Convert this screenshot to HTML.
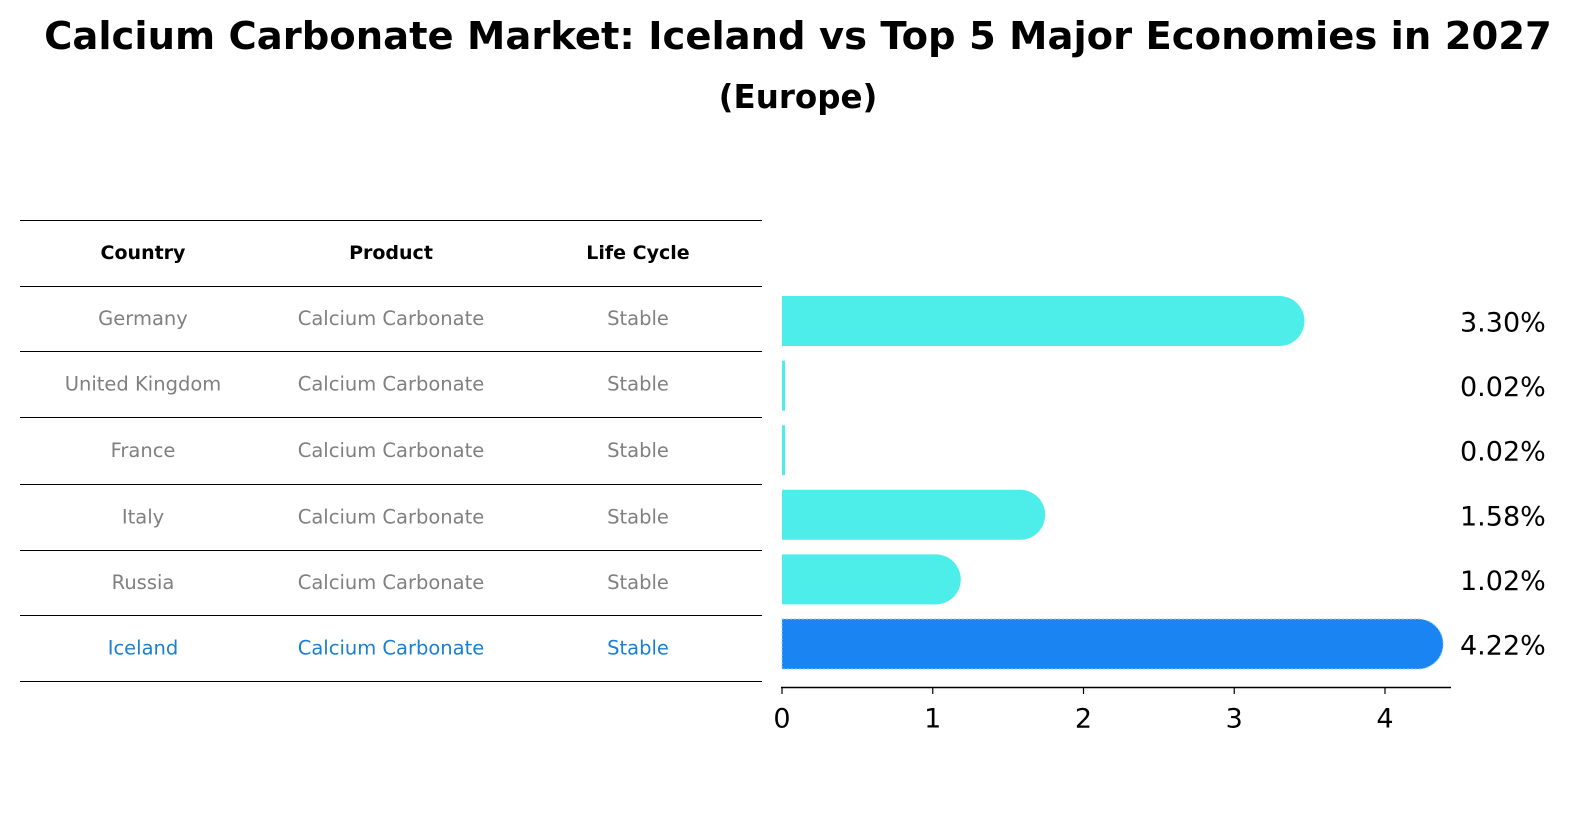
<!DOCTYPE html>
<html><head><meta charset="utf-8"><style>
body{margin:0;background:#fff;font-family:"DejaVu Sans","Liberation Sans",sans-serif;}
#root{position:relative;width:1588px;height:823px;overflow:hidden;}
.t{position:absolute;white-space:nowrap;line-height:1;}
</style></head><body>
<div id="root">
<div class="t" style="left:0;width:1596px;text-align:center;top:18px;font-size:38.5px;font-weight:bold;">Calcium Carbonate Market: Iceland vs Top 5 Major Economies in 2027</div>
<div class="t" style="left:0;width:1596px;text-align:center;top:81px;font-size:32.5px;font-weight:bold;">(Europe)</div>
<svg id="svg" width="1588" height="823" style="position:absolute;left:0;top:0"></svg>
</div>
<script>
const countries=["Germany","United Kingdom","France","Italy","Russia","Iceland"];
const products=["Calcium Carbonate","Calcium Carbonate","Calcium Carbonate","Calcium Carbonate","Calcium Carbonate","Calcium Carbonate"];
const lifeCycles=["Stable","Stable","Stable","Stable","Stable","Stable"];
const values=[3.30,0.02,0.02,1.58,1.02,4.22];
const ticks=[0,1,2,3,4];
const NS="http://www.w3.org/2000/svg";
const svg=document.getElementById('svg');
const x=v=>782+v*150.75;
const rowY=i=>321+i*64.6;
function el(tag,attrs){const e=document.createElementNS(NS,tag);for(const k in attrs)e.setAttribute(k,attrs[k]);svg.appendChild(e);return e;}
function txt(s,xx,yy,size,fill,anchor,weight){const e=el('text',{x:xx,y:yy,'font-size':size,fill:fill,'text-anchor':anchor,'font-family':'DejaVu Sans, Liberation Sans, sans-serif','dominant-baseline':'central'});if(weight)e.setAttribute('font-weight',weight);e.textContent=s;return e;}
const lineYs=[220,286,351,417,484,550,615,681];
lineYs.forEach(ly=>{const l=el('line',{x1:20,x2:762,y1:ly+0.5,y2:ly+0.5,stroke:'#000','stroke-width':1});

});
const cols=[143,391,638];
["Country","Product","Life Cycle"].forEach((h,j)=>{const t=txt(h,cols[j],253,19,'#000','middle','bold');

});
countries.forEach((c,i)=>{
 const yy=(lineYs[i+1]+lineYs[i+2])/2;
 const col=i===5?'#1a7fd4':'#808080';
 [c,products[i],lifeCycles[i]].forEach((s,j)=>{const t=txt(s,cols[j],yy,19.5,col,'middle');
 
 });
 const y=rowY(i),h=50,r=25,x0=x(0),x1=x(values[i]);
 const fill=i===5?'#1a85f2':'#4deeea';
 let d;
 if(x1-x0<r){d=`M${x0},${y-h/2}H${x0+3}V${y+h/2}H${x0}Z`;}
 else d=`M${x0},${y-h/2}H${x1}A${r},${r} 0 0 1 ${x1},${y+h/2}H${x0}Z`;
 const p=el('path',{d:d,fill:fill});
 if(i===5){p.setAttribute('stroke','#8fd8f0');p.setAttribute('stroke-width','1');p.setAttribute('stroke-dasharray','2,2');}
 
 
 const lt=txt(values[i].toFixed(2)+'%',1460,y+2,27,'#000','start');
 
 
});
const ax=el('line',{x1:781,x2:1451,y1:687.5,y2:687.5,stroke:'#000','stroke-width':1.5});


ticks.forEach(t=>{const l=el('line',{x1:x(t),x2:x(t),y1:687,y2:694,stroke:'#000','stroke-width':1.2});


const tl=txt(String(t),x(t),719,27,'#000','middle');

});
</script>
</body></html>
